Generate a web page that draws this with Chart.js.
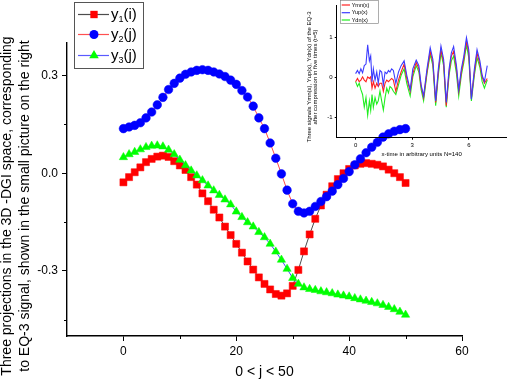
<!DOCTYPE html>
<html>
<head>
<meta charset="utf-8">
<script src="https://cdn.jsdelivr.net/npm/chart.js@4.4.1/dist/chart.umd.min.js"></script>
<style>
  html, body { margin: 0; padding: 0; background: #fff; }
  #wrap { position: relative; width: 510px; height: 381px; }
  #mainChart { position: absolute; left: 0; top: 0; }
  #insetChart { position: absolute; left: 300px; top: 0; }
</style>
</head>
<body>
<div id="wrap">
  <canvas id="mainChart" width="510" height="381"></canvas>
  <canvas id="insetChart" width="210" height="165"></canvas>
</div>
<script>
    // ===== MAIN CHART DATA =====
    const jIndex = [0, 1, 2, 3, 4, 5, 6, 7, 8, 9, 10, 11, 12, 13, 14, 15, 16, 17, 18, 19, 20,
        21, 22, 23, 24, 25, 26, 27, 28, 29, 30, 31, 32, 33, 34, 35, 36, 37, 38, 39, 40,
        41, 42, 43, 44, 45, 46, 47, 48, 49, 50];

    const y1 = [-0.028, -0.012, 0.003, 0.018, 0.034, 0.044, 0.051, 0.054, 0.050, 0.037,
        0.024, 0.010, -0.012, -0.035, -0.062, -0.086, -0.112, -0.136, -0.164, -0.190,
        -0.217, -0.244, -0.271, -0.296, -0.320, -0.340, -0.357, -0.371, -0.376, -0.369,
        -0.346, -0.297, -0.240, -0.188, -0.140, -0.099, -0.066, -0.040, -0.018, 0.000,
        0.013, 0.024, 0.029, 0.031, 0.029, 0.026, 0.021, 0.011, 0.000, -0.012, -0.030];

    const y2 = [0.137, 0.142, 0.147, 0.155, 0.170, 0.188, 0.210, 0.233, 0.257, 0.276,
        0.292, 0.304, 0.311, 0.316, 0.318, 0.316, 0.311, 0.305, 0.297, 0.286,
        0.273, 0.254, 0.234, 0.206, 0.170, 0.137, 0.093, 0.046, -0.002, -0.052,
        -0.094, -0.117, -0.122, -0.117, -0.102, -0.087, -0.072, -0.055, -0.035, -0.016,
        0.005, 0.026, 0.044, 0.063, 0.080, 0.095, 0.111, 0.121, 0.129, 0.134, 0.137];

    const y3 = [0.049, 0.058, 0.065, 0.073, 0.080, 0.084, 0.085, 0.082, 0.072, 0.058,
        0.041, 0.024, 0.008, -0.007, -0.022, -0.038, -0.053, -0.067, -0.081, -0.096,
        -0.118, -0.135, -0.151, -0.164, -0.181, -0.197, -0.217, -0.241, -0.266, -0.294,
        -0.322, -0.340, -0.351, -0.356, -0.359, -0.363, -0.366, -0.369, -0.373, -0.376,
        -0.379, -0.384, -0.388, -0.392, -0.396, -0.400, -0.405, -0.411, -0.418, -0.426, -0.435];

    const xMajorTicks = [0, 20, 40, 60];
    const xMinorTicks = [10, 30, 50];
    const yMajorTicks = [-0.3, 0, 0.3];
    const yMinorTicks = [-0.45, -0.15, 0.15];

    // ===== INSET DATA =====
    const insetX = [0.00, 0.10, 0.19, 0.28, 0.37, 0.46, 0.55, 0.64, 0.73, 0.80,
        0.87, 0.94, 1.03, 1.12, 1.20, 1.29, 1.38, 1.47, 1.56, 1.65,
        1.74, 1.82, 1.91, 2.00, 2.13, 2.27, 2.41, 2.57, 2.71, 2.89,
        3.03, 3.21, 3.35, 3.47, 3.60, 3.78, 3.95, 4.09, 4.24, 4.38,
        4.52, 4.66, 4.80, 4.95, 5.07, 5.19, 5.34, 5.46, 5.60, 5.73,
        5.87, 5.99, 6.13, 6.29, 6.43, 6.58, 6.70, 6.82, 6.97];

    const yUp = [0.10, 0.18, 0.10, 0.22, 0.12, 0.30, 0.34, 0.82, 0.42, 0.54,
        -0.10, 0.22, -0.06, 0.14, -0.14, 0.18, 0.14, -0.18, 0.14, 0.10,
        0.18, 0.14, 0.22, 0.18, -0.14, 0.14, 0.30, 0.42, 0.06, -0.30,
        0.22, 0.44, 0.30, -0.18, -0.46, 0.22, 0.75, 0.46, -0.58, 0.22,
        0.79, 0.46, -0.62, 0.22, 0.62, 0.78, 0.30, -0.30, 0.22, 0.54,
        1.00, 0.70, -0.54, 0.22, 0.70, 0.42, 0.06, -0.10, 0.30];

    const yMn = [-0.10, -0.02, -0.10, -0.06, 0.02, -0.06, -0.10, 0.02, -0.02, 0.02,
        -0.26, -0.10, -0.26, -0.14, -0.22, -0.14, -0.14, -0.34, -0.14, -0.06,
        -0.10, -0.06, -0.02, -0.06, -0.34, -0.06, 0.14, 0.34, -0.02, -0.34,
        0.10, 0.38, 0.22, -0.22, -0.50, 0.14, 0.66, 0.38, -0.62, 0.14,
        0.70, 0.38, -0.70, 0.14, 0.54, 0.66, 0.22, -0.34, 0.14, 0.46,
        0.92, 0.62, -0.52, 0.14, 0.62, 0.34, 0.02, -0.14, -0.02];

    const yDn = [-0.10, -0.22, -0.14, -0.30, -0.42, -0.74, -0.50, -0.94, -0.58, -0.82,
        -0.42, -0.74, -0.50, -0.66, -0.58, -0.34, -0.58, -0.81, -0.50, -0.26,
        -0.38, -0.22, -0.26, -0.34, -0.42, -0.18, 0.06, 0.22, -0.14, -0.46,
        0.02, 0.30, 0.14, -0.30, -0.58, 0.10, 0.58, 0.30, -0.70, 0.06,
        0.62, 0.30, -0.74, 0.06, 0.42, 0.54, 0.10, -0.46, 0.06, 0.38,
        0.82, 0.50, -0.58, 0.06, 0.50, 0.26, -0.10, -0.26, -0.06];

    const insetXTicks = [0, 3, 6];
    const insetYTicks = [-1, 0, 1];

    const FONT = '"Liberation Sans", Arial, sans-serif';

    function pairs(xs, ys) {
        return ys.map((v, i) => ({ x: xs[i], y: v }));
    }

    // ===== SMALL DRAW HELPERS =====
    function drawMarker(ctx, style, x, y, r, color) {
        ctx.fillStyle = color;
        ctx.beginPath();
        if (style === 'rect') {
            const s = r * Math.SQRT1_2;
            ctx.rect(x - s, y - s, 2 * s, 2 * s);
        } else if (style === 'circle') {
            ctx.arc(x, y, r, 0, Math.PI * 2);
        } else {
            ctx.moveTo(x, y - r);
            ctx.lineTo(x + r * 0.866, y + r * 0.5);
            ctx.lineTo(x - r * 0.866, y + r * 0.5);
            ctx.closePath();
        }
        ctx.fill();
    }

    function drawSubLabel(ctx, x, y, base, sub, tail, size) {
        ctx.fillStyle = '#000';
        ctx.textAlign = 'left';
        ctx.textBaseline = 'alphabetic';
        ctx.font = size + 'px ' + FONT;
        ctx.fillText(base, x, y);
        let w = ctx.measureText(base).width;
        ctx.font = Math.round(size * 0.62) + 'px ' + FONT;
        ctx.fillText(sub, x + w, y + size * 0.22);
        w += ctx.measureText(sub).width;
        ctx.font = size + 'px ' + FONT;
        ctx.fillText(tail, x + w, y);
    }

    function rotatedText(ctx, text, x, y, font) {
        ctx.save();
        ctx.translate(x, y);
        ctx.rotate(-Math.PI / 2);
        ctx.font = font;
        ctx.fillStyle = '#000';
        ctx.textAlign = 'center';
        ctx.textBaseline = 'middle';
        ctx.fillText(text, 0, 0);
        ctx.restore();
    }

    // ===== MAIN DECORATIONS =====
    const mainDecor = {
        id: 'mainDecor',
        afterDraw(chart) {
            const ctx = chart.ctx;
            const xs = chart.scales.x;
            const ys = chart.scales.y;
            const area = chart.chartArea;
            ctx.save();

            // minor ticks
            ctx.strokeStyle = '#000';
            ctx.lineWidth = 1;
            xMinorTicks.forEach(v => {
                const px = Math.round(xs.getPixelForValue(v)) + 0.5;
                ctx.beginPath();
                ctx.moveTo(px, area.bottom);
                ctx.lineTo(px, area.bottom + 3);
                ctx.stroke();
            });
            yMinorTicks.forEach(v => {
                const py = Math.round(ys.getPixelForValue(v)) + 0.5;
                ctx.beginPath();
                ctx.moveTo(area.left, py);
                ctx.lineTo(area.left - 3, py);
                ctx.stroke();
            });

            // axis titles
            ctx.fillStyle = '#000';
            ctx.font = '14px ' + FONT;
            ctx.textAlign = 'center';
            ctx.textBaseline = 'middle';
            ctx.fillText('0 < j < 50', (area.left + area.right) / 2, 372);
            rotatedText(ctx, 'Three projections in the 3D -DGI space, corresponding', 7, 206, '14px ' + FONT);
            rotatedText(ctx, 'to EQ-3 signal, shown in the small picture on the right', 25, 206, '14px ' + FONT);

            // legend
            ctx.strokeStyle = '#555';
            ctx.lineWidth = 1;
            ctx.strokeRect(74.5, 2.5, 69, 66);
            const rows = [
                { y: 14, line: '#4d4d4d', style: 'rect', r: 5.2, color: '#ff0000', sub: '1', tail: '(i)' },
                { y: 34, line: '#ff5050', style: 'circle', r: 4.5, color: '#0000ff', sub: '2', tail: '(j)' },
                { y: 55, line: '#5a5aff', style: 'triangle', r: 5.5, color: '#00ff00', sub: '3', tail: '(j)' }
            ];
            rows.forEach(row => {
                ctx.strokeStyle = row.line;
                ctx.lineWidth = 1.2;
                ctx.beginPath();
                ctx.moveTo(78, row.y + 0.5);
                ctx.lineTo(109, row.y + 0.5);
                ctx.stroke();
                drawMarker(ctx, row.style, 94, row.y + 0.5, row.r, row.color);
                drawSubLabel(ctx, 111, row.y + 5, 'y', row.sub, row.tail, 15);
            });

            ctx.restore();
        }
    };

    new Chart(document.getElementById('mainChart'), {
        type: 'line',
        data: {
            datasets: [
                {
                    label: 'y1(i)',
                    data: pairs(jIndex, y1),
                    borderColor: '#4d4d4d',
                    borderWidth: 1,
                    pointStyle: 'rect',
                    pointRadius: 5,
                    pointBackgroundColor: '#ff0000',
                    pointBorderColor: '#ff0000',
                    pointBorderWidth: 0.5,
                    order: 3
                },
                {
                    label: 'y2(j)',
                    data: pairs(jIndex, y2),
                    borderColor: '#ff4a4a',
                    borderWidth: 1,
                    pointStyle: 'circle',
                    pointRadius: 4.3,
                    pointBackgroundColor: '#0000ff',
                    pointBorderColor: '#0000ff',
                    pointBorderWidth: 0.5,
                    order: 2
                },
                {
                    label: 'y3(j)',
                    data: pairs(jIndex, y3),
                    borderColor: '#4a4aff',
                    borderWidth: 1,
                    pointStyle: 'triangle',
                    pointRadius: 4.8,
                    pointBackgroundColor: '#00ff00',
                    pointBorderColor: '#00ff00',
                    pointBorderWidth: 0.5,
                    order: 1
                }
            ]
        },
        options: {
            responsive: false,
            devicePixelRatio: 1,
            animation: false,
            layout: { padding: { left: 0, right: 48, top: 43, bottom: 0 } },
            plugins: {
                legend: { display: false },
                tooltip: { enabled: false }
            },
            scales: {
                x: {
                    type: 'linear',
                    min: -10,
                    max: 60,
                    afterBuildTicks: s => { s.ticks = xMajorTicks.map(v => ({ value: v })); },
                    afterFit: s => { s.height = 45; },
                    grid: { drawOnChartArea: false, tickLength: 5, color: '#000', tickColor: '#000' },
                    border: { display: true, color: '#000', width: 1.4 },
                    ticks: {
                        color: '#000',
                        font: { size: 12, family: FONT },
                        padding: 3,
                        maxRotation: 0,
                        callback: v => String(v)
                    }
                },
                y: {
                    min: -0.5,
                    max: 0.4,
                    afterBuildTicks: s => { s.ticks = yMajorTicks.map(v => ({ value: v })); },
                    afterFit: s => { s.width = 67; },
                    grid: { drawOnChartArea: false, tickLength: 5, color: '#000', tickColor: '#000' },
                    border: { display: true, color: '#000', width: 1.4 },
                    ticks: {
                        color: '#000',
                        font: { size: 12, family: FONT },
                        padding: 4,
                        callback: v => v.toFixed(1)
                    }
                }
            }
        },
        plugins: [mainDecor]
    });

    // ===== INSET DECORATIONS =====
    const insetDecor = {
        id: 'insetDecor',
        afterDraw(chart) {
            const ctx = chart.ctx;
            const area = chart.chartArea;
            ctx.save();

            ctx.fillStyle = '#000';
            ctx.font = '6px ' + FONT;
            ctx.textAlign = 'center';
            ctx.textBaseline = 'middle';
            ctx.fillText('x-time in arbitrary units N=140', (area.left + area.right) / 2, 154);
            rotatedText(ctx, 'Three signals Ymn(x), Yup(x), Ydn(x) of the EQ-3', 9.5, 77, '6px ' + FONT);
            rotatedText(ctx, 'after compression in five times (t=5)', 15.5, 77, '6px ' + FONT);

            // inset legend
            ctx.strokeStyle = '#777';
            ctx.lineWidth = 0.6;
            ctx.strokeRect(40.5, 0.5, 38, 23);
            const rows = [
                { y: 5, color: '#ff2020', text: 'Ymn(x)' },
                { y: 12.7, color: '#3c3cff', text: 'Yup(x)' },
                { y: 20, color: '#20ee20', text: 'Ydn(x)' }
            ];
            ctx.textAlign = 'left';
            ctx.font = '5.5px ' + FONT;
            rows.forEach(row => {
                ctx.strokeStyle = row.color;
                ctx.lineWidth = 1.2;
                ctx.beginPath();
                ctx.moveTo(41.7, row.y);
                ctx.lineTo(50, row.y);
                ctx.stroke();
                ctx.fillStyle = '#000';
                ctx.fillText(row.text, 51.7, row.y);
            });

            ctx.restore();
        }
    };

    new Chart(document.getElementById('insetChart'), {
        type: 'line',
        data: {
            datasets: [
                { label: 'Ymn(x)', data: pairs(insetX, yMn), borderColor: '#ff2020', borderWidth: 1.1, pointRadius: 0, order: 2 },
                { label: 'Yup(x)', data: pairs(insetX, yUp), borderColor: '#3c3cff', borderWidth: 1.1, pointRadius: 0, order: 1 },
                { label: 'Ydn(x)', data: pairs(insetX, yDn), borderColor: '#20ee20', borderWidth: 1.1, pointRadius: 0, order: 3 }
            ]
        },
        options: {
            responsive: false,
            devicePixelRatio: 1,
            animation: false,
            layout: { padding: { left: 0, right: 3.3, top: 1, bottom: 0 } },
            plugins: {
                legend: { display: false },
                tooltip: { enabled: false }
            },
            scales: {
                x: {
                    type: 'linear',
                    min: -1,
                    max: 8,
                    afterBuildTicks: s => { s.ticks = insetXTicks.map(v => ({ value: v })); },
                    afterFit: s => { s.height = 27.3; },
                    grid: { drawOnChartArea: false, tickLength: 2, color: '#000', tickColor: '#000' },
                    border: { display: true, color: '#000', width: 1 },
                    ticks: { color: '#000', font: { size: 6, family: FONT }, padding: 2, maxRotation: 0 }
                },
                y: {
                    min: -1.5,
                    max: 1.8,
                    afterBuildTicks: s => { s.ticks = insetYTicks.map(v => ({ value: v })); },
                    afterFit: s => { s.width = 36.7; },
                    grid: { drawOnChartArea: false, tickLength: 2, color: '#000', tickColor: '#000' },
                    border: { display: true, color: '#000', width: 1 },
                    ticks: { color: '#000', font: { size: 6, family: FONT }, padding: 2 }
                }
            }
        },
        plugins: [insetDecor]
    });
</script>
</body>
</html>
